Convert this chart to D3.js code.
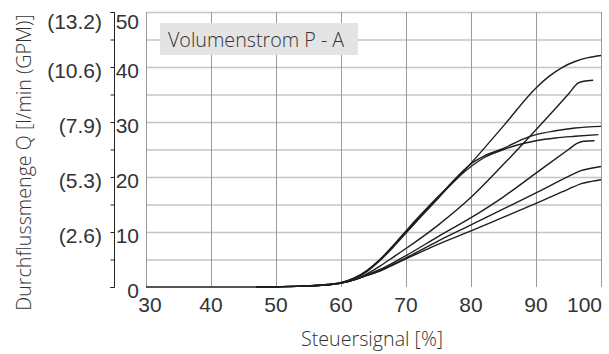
<!DOCTYPE html>
<html><head><meta charset="utf-8">
<script src="https://cdn.jsdelivr.net/npm/d3@7"></script>
<style>
html,body{margin:0;padding:0;background:#fff;}
svg{display:block;}
</style>
</head><body>
<svg id="c" width="609" height="354"></svg>
<script>
// ---- data ----
const xTicks = [30,40,50,60,70,80,90,100];
const yTicks = [0,10,20,30,40,50];
const yMinorTicks = [0,5,10,15,20,25,30,35,40,45,50];
const gpmLabels = ["", "(2.6)", "(5.3)", "(7.9)", "(10.6)", "(13.2)"];
const legendText = "Volumenstrom P - A";
const xTitle = "Steuersignal [%]";
const yTitle = "Durchflussmenge Q [l/min (GPM)]";

const curveA = [[30,0],[47,0],[50,0.05],[55,0.2],[58,0.45],[60,0.8],[62,1.6],[64,3.0],[66,5.0],[68,7.5],[70,10.2],[72,12.8],[75,16.5],[78,19.9],[80,22.5],[85,29.3],[90,36.2],[92,38.3],[94,39.9],[96,41.0],[98,41.7],[100,42.1]];
const curveB = [[47,0],[50,0.05],[55,0.2],[58,0.4],[60,0.7],[62,1.3],[64,2.4],[66,3.8],[68,5.4],[70,7.0],[75,11.3],[80,16.3],[85,22.3],[90,28.6],[95,35.1],[96.5,37.1],[97.3,37.4],[98.8,37.6]];
const curveC = [[47,0],[50,0.05],[55,0.2],[58,0.45],[60,0.8],[62,1.6],[64,3.0],[66,5.0],[68,7.4],[70,10.0],[72,12.6],[75,16.4],[78,20.2],[80,22.4],[82,23.8],[85,25.2],[88,26.9],[90,27.7],[93,28.4],[96,28.9],[100,29.2]];
const curveD = [[47,0],[50,0.05],[55,0.2],[58,0.45],[60,0.8],[62,1.5],[64,2.8],[66,4.8],[68,7.2],[70,9.8],[72,12.4],[75,16.2],[78,19.9],[80,21.9],[82,23.5],[85,25.0],[88,26.1],[90,26.6],[93,27.1],[96,27.4],[99.6,27.7]];
const curveE = [[47,0],[50,0.05],[55,0.2],[58,0.4],[60,0.7],[62,1.3],[64,2.2],[66,3.2],[68,4.4],[70,5.7],[75,9.2],[80,12.6],[85,16.4],[90,20.7],[95,25.0],[96.3,26.1],[97.3,26.5],[99,26.6]];
const curveF = [[47,0],[50,0.05],[55,0.2],[58,0.4],[60,0.7],[62,1.3],[64,2.1],[66,3.0],[68,4.1],[70,5.3],[75,8.4],[80,11.3],[85,14.2],[90,17.1],[95,20.1],[96.8,21.1],[98.5,21.6],[100,21.9]];
const curveG = [[47,0],[50,0.05],[55,0.2],[58,0.4],[60,0.7],[62,1.3],[64,2.1],[66,2.9],[68,4.0],[70,5.1],[75,7.8],[80,10.2],[85,12.7],[90,15.2],[95,17.8],[97,18.8],[98.5,19.2],[100,19.5]];
const curves = [curveA, curveB, curveC, curveD, curveE, curveF, curveG];

// ---- layout ----
const svg = d3.select("#c");
const plot = {left:146, right:601, top:12, bottom:287};
const x = d3.scaleLinear().domain([30,100]).range([plot.left, plot.right]);
const y = d3.scaleLinear().domain([0,50]).range([plot.bottom, plot.top]);
const numFont = "'Liberation Sans Narrow','Arial Narrow','Liberation Sans',sans-serif";
const txtFont = "'Open Sans','Noto Sans',sans-serif";
const numSize = 21;
const txtSize = 19.7;
const numColor = "#333";

// grid
const g = svg.append("g");
g.selectAll("line.h").data(yMinorTicks.filter(d=>d>0)).enter().append("line")
  .attr("x1", plot.left).attr("x2", plot.right)
  .attr("y1", d=>y(d)+0.5).attr("y2", d=>y(d)+0.5)
  .attr("stroke", "#c4c4c4").attr("stroke-width", 1.6);
g.selectAll("line.v").data(xTicks).enter().append("line")
  .attr("x1", d=>Math.round(x(d))+0.5).attr("x2", d=>Math.round(x(d))+0.5)
  .attr("y1", plot.top).attr("y2", plot.bottom)
  .attr("stroke", "#9a9a9a").attr("stroke-width", 1);

// legend box
svg.append("rect").attr("x",160).attr("y",23).attr("width",198).attr("height",32).attr("fill","#e4e4e4");
svg.append("text").attr("x",168).attr("y",47).text(legendText)
  .attr("font-family", txtFont).attr("font-weight",300).attr("font-size", txtSize).attr("fill","#333");

// curves
const line = d3.line().x(d=>x(d[0])).y(d=>y(d[1])).curve(d3.curveMonotoneX);
svg.append("g").selectAll("path").data(curves).enter().append("path")
  .attr("d", line).attr("fill","none").attr("stroke","#1e1e1e").attr("stroke-width",1.4);

// left axis
const yAxisX = 114;
const yAxis = d3.axisLeft(y).tickValues(yMinorTicks).tickSize(4).tickFormat("");
const ya = svg.append("g").attr("transform", `translate(${yAxisX+0.5},0)`).call(yAxis);
ya.select(".domain").attr("stroke","#222").attr("d", `M-4,${plot.top+0.5}H0V${plot.bottom+0.5}H-4`);
ya.selectAll(".tick line").attr("stroke","#222");

const labelY = d => Math.max(y(d) + 10.5, 29.3);
svg.append("g").selectAll("text").data(yTicks).enter().append("text")
  .attr("x", 139).attr("y", labelY).attr("text-anchor","end")
  .attr("font-family", numFont).attr("font-size", numSize).attr("fill",numColor)
  .text(d=>d);
svg.append("g").selectAll("text").data(yTicks).enter().append("text")
  .attr("x", 102).attr("y", labelY).attr("text-anchor","end")
  .attr("font-family", numFont).attr("font-size", numSize).attr("fill",numColor)
  .text((d,i)=>gpmLabels[i]);

// x axis labels
svg.append("g").selectAll("text").data(xTicks).enter().append("text")
  .attr("x", d=> d===100 ? plot.right+1 : x(d)+ (d===30?4:0))
  .attr("y", 311.5).attr("text-anchor", d=> d===100 ? "end" : "middle")
  .attr("font-family", numFont).attr("font-size", numSize).attr("fill",numColor)
  .text(d=>d);

// titles
svg.append("text").attr("x", 372).attr("y", 346).attr("text-anchor","middle")
  .attr("font-family", txtFont).attr("font-weight",300).attr("font-size", txtSize).attr("fill","#333").text(xTitle);
svg.append("text").attr("transform","translate(31,162.5) rotate(-90)").attr("text-anchor","middle")
  .attr("font-family", txtFont).attr("font-weight",300).attr("font-size", txtSize).attr("fill","#333").text(yTitle);
</script>
</body></html>
